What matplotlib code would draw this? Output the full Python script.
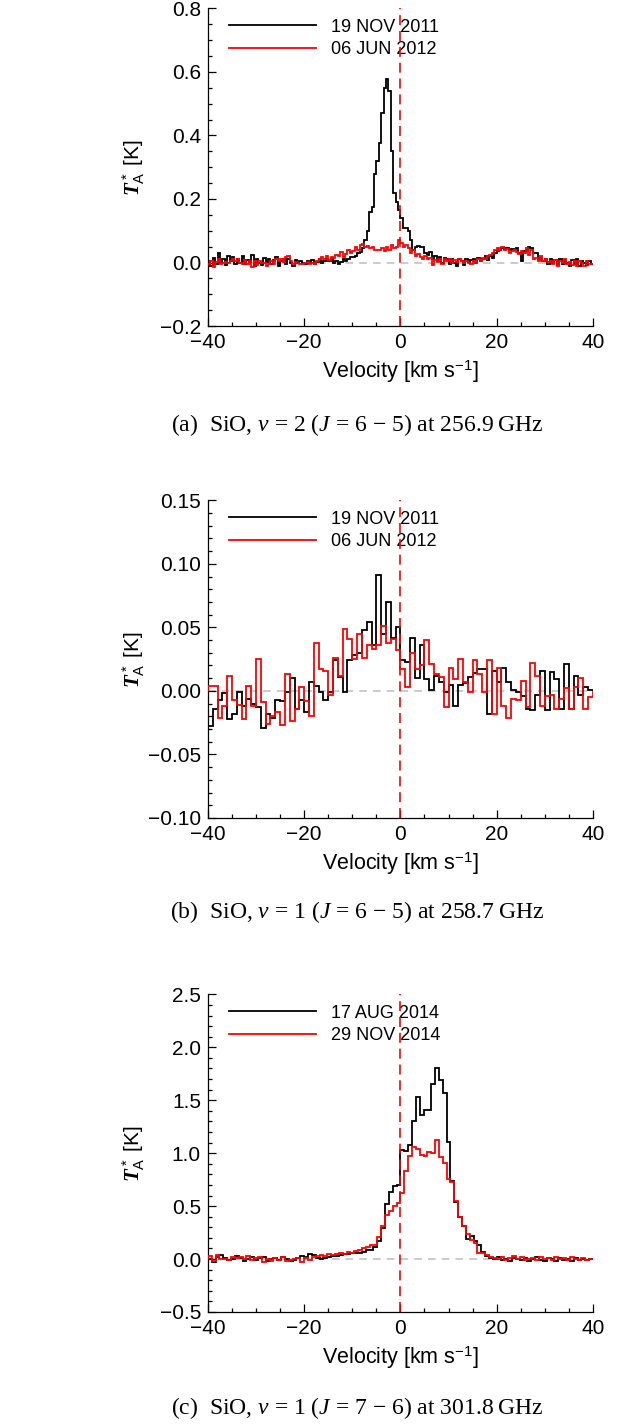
import numpy as np
import matplotlib
matplotlib.use("Agg")
import matplotlib.pyplot as plt

plt.rcParams["font.family"] = ["Liberation Sans", "DejaVu Sans"]
plt.rcParams["mathtext.fontset"] = "custom"
plt.rcParams["mathtext.rm"] = "Liberation Sans"
plt.rcParams["mathtext.it"] = "Liberation Serif:italic"
plt.rcParams["mathtext.bfit"] = "Liberation Serif:italic:bold"

# panel (a): SiO v=2 J=6-5, 0.5 km/s channels
a_black = [
    0.005, -0.010, 0.015, -0.005, 0.030, 0.000, 0.010, -0.008, 0.020, 0.005,
    0.018, -0.004, 0.012, 0.000, 0.022, -0.006, 0.008, 0.003, 0.025, -0.010,
    0.010, 0.000, -0.008, 0.015, 0.002, 0.012, -0.004, 0.008, 0.016, -0.012,
    0.006, 0.012, -0.006, 0.010, 0.000, -0.010, 0.008, -0.002, 0.004, 0.000,
    -0.004, 0.006, 0.000, 0.008, -0.006, 0.002, 0.010, 0.000, 0.004, 0.012,
    0.006, 0.012, 0.000, 0.004, -0.004, 0.002, 0.010, 0.006, 0.012, 0.018,
    0.018, 0.022, 0.030, 0.032, 0.045, 0.070, 0.100, 0.160, 0.175, 0.280,
    0.320, 0.375, 0.470, 0.550, 0.577, 0.540, 0.350, 0.220, 0.190, 0.165,
    0.140, 0.110, 0.108, 0.100, 0.070, 0.040, 0.050, 0.052, 0.048, 0.050,
    0.030, 0.025, 0.032, 0.012, 0.020, 0.005, 0.018, 0.000, 0.015, 0.010,
    -0.005, 0.012, 0.000, -0.012, 0.010, 0.005, -0.008, 0.012, 0.002, 0.008,
    0.010, 0.000, 0.015, 0.005, 0.012, 0.020, 0.008, 0.022, 0.015, 0.030,
    0.035, 0.040, 0.045, 0.042, 0.045, 0.040, 0.044, 0.038, 0.045, 0.030,
    0.005, 0.035, 0.040, 0.050, 0.045, 0.030, 0.030, 0.010, 0.015, 0.005,
    0.010, -0.005, 0.012, 0.000, 0.008, -0.008, 0.010, -0.006, 0.005, 0.000,
    -0.010, 0.008, -0.004, 0.012, -0.012, 0.006, 0.000, -0.008, 0.004, -0.004,
]
a_red = [
    -0.004, 0.006, -0.015, 0.002, 0.010, -0.005, 0.000, 0.003, -0.002, 0.004,
    0.012, 0.005, 0.010, 0.000, -0.004, 0.008, -0.006, 0.006, -0.015, 0.004,
    -0.008, 0.005, -0.002, 0.000, -0.010, -0.004, 0.006, -0.006, 0.012, 0.004,
    0.010, 0.002, 0.016, 0.020, 0.004, -0.004, 0.002, 0.000, -0.006, -0.004,
    -0.002, 0.002, -0.004, 0.000, -0.006, 0.006, 0.010, 0.016, 0.012, 0.020,
    0.008, 0.018, 0.014, 0.024, 0.020, 0.032, 0.016, 0.028, 0.040, 0.030,
    0.035, 0.048, 0.040, 0.055, 0.058, 0.050, 0.052, 0.045, 0.050, 0.038,
    0.040, 0.038, 0.045, 0.035, 0.048, 0.040, 0.055, 0.045, 0.050, 0.070,
    0.060, 0.048, 0.055, 0.045, 0.030, 0.040, 0.020, 0.028, 0.018, 0.010,
    0.020, 0.012, 0.015, -0.008, 0.008, 0.002, 0.012, -0.004, 0.010, 0.005,
    0.012, 0.000, 0.008, 0.002, 0.012, 0.004, -0.002, 0.006, 0.000, -0.004,
    0.006, 0.000, 0.010, 0.004, 0.015, 0.012, 0.020, 0.025, 0.030, 0.038,
    0.045, 0.040, 0.048, 0.038, 0.042, 0.030, 0.036, 0.040, 0.032, 0.028,
    0.035, 0.030, 0.045, 0.025, 0.040, 0.010, 0.015, 0.006, 0.020, 0.004,
    0.012, 0.002, 0.006, -0.004, 0.008, -0.010, 0.004, 0.000, 0.010, -0.006,
    0.002, -0.008, 0.006, -0.012, 0.004, 0.000, -0.010, 0.006, -0.004, -0.006,
]

# panel (b): SiO v=1 J=6-5, 1 km/s channels
b_black = [
    -0.028, -0.014, -0.007, -0.002, -0.022, -0.018, -0.001, -0.012, -0.006, -0.010,
    -0.013, -0.029, -0.018, -0.021, -0.007, -0.008, -0.001, 0.010, -0.014, -0.007,
    -0.017, 0.007, 0.004, -0.001, -0.007, -0.001, 0.024, 0.011, -0.001, 0.024,
    0.028, 0.030, 0.048, 0.054, 0.036, 0.091, 0.045, 0.070, 0.042, 0.050,
    0.024, 0.023, 0.042, 0.010, 0.036, 0.009, 0.001, 0.012, 0.007, -0.001,
    0.005, -0.012, 0.005, 0.006, 0.011, 0.014, 0.017, 0.017, -0.018, 0.016,
    0.007, 0.018, 0.007, 0.001, -0.001, -0.004, -0.014, -0.015, -0.003, 0.016,
    -0.015, 0.015, 0.009, -0.014, 0.021, -0.014, 0.012, -0.003, 0.003, 0.001,
]
b_red = [
    0.004, 0.004, -0.021, -0.012, 0.012, -0.007, -0.011, -0.022, 0.004, -0.012,
    0.025, -0.009, -0.026, -0.020, -0.017, -0.027, 0.013, -0.024, -0.014, 0.003,
    -0.008, -0.020, 0.038, 0.017, 0.016, -0.003, 0.026, 0.012, 0.049, 0.041,
    0.025, 0.045, 0.026, 0.036, 0.033, 0.036, 0.051, 0.038, 0.041, 0.032,
    0.017, 0.003, 0.030, 0.017, 0.020, 0.040, 0.021, 0.013, 0.011, -0.013,
    0.018, 0.009, 0.025, 0.007, -0.001, 0.024, 0.013, -0.001, 0.024, -0.018,
    0.018, -0.012, -0.021, -0.006, -0.007, 0.008, -0.013, 0.022, 0.012, -0.012,
    -0.004, -0.003, -0.014, -0.006, 0.002, -0.014, 0.003, 0.010, -0.014, -0.005,
]

# panel (c): SiO v=1 J=7-6, 0.8 km/s channels
c_black = [
    0.00, -0.03, 0.02, 0.04, 0.01, -0.01, 0.00, 0.03, 0.01, -0.02,
    0.00, 0.02, -0.01, 0.01, 0.02, -0.02, 0.00, 0.01, -0.01, 0.02,
    0.00, -0.02, -0.01, 0.01, 0.03, 0.02, 0.05, 0.04, 0.01, 0.00,
    0.01, 0.02, 0.03, 0.03, 0.04, 0.05, 0.045, 0.055, 0.06, 0.055,
    0.07, 0.085, 0.09, 0.11, 0.17, 0.29, 0.52, 0.63, 0.69, 0.70,
    1.03, 1.02, 1.08, 1.30, 1.53, 1.36, 1.41, 1.41, 1.65, 1.80,
    1.69, 1.57, 1.11, 0.74, 0.54, 0.40, 0.31, 0.19, 0.22, 0.17,
    0.13, 0.07, 0.025, 0.01, 0.00, 0.02, -0.01, 0.00, -0.02, 0.01,
    0.00, -0.01, 0.01, -0.02, 0.00, 0.02, -0.01, -0.02, 0.01, 0.00,
    -0.02, 0.01, -0.01, 0.00, -0.02, 0.01, -0.01, 0.00, -0.01, 0.00,
]
c_red = [
    0.03, -0.02, 0.04, 0.00, 0.00, -0.01, 0.02, 0.01, 0.02, 0.00,
    0.03, -0.01, 0.01, 0.02, -0.03, 0.00, -0.02, 0.01, -0.01, 0.02,
    -0.02, -0.01, 0.00, 0.01, -0.03, 0.01, -0.01, 0.02, 0.03, 0.04,
    0.03, 0.05, 0.04, 0.05, 0.06, 0.05, 0.07, 0.06, 0.08, 0.09,
    0.10, 0.11, 0.13, 0.13, 0.21, 0.31, 0.42, 0.45, 0.50, 0.53,
    0.62, 0.83, 0.97, 1.06, 1.04, 0.98, 0.97, 1.01, 1.00, 1.12,
    0.96, 0.91, 0.76, 0.73, 0.55, 0.40, 0.31, 0.24, 0.18, 0.15,
    0.06, 0.06, 0.04, 0.02, 0.01, 0.00, 0.02, -0.01, 0.01, 0.03,
    0.00, 0.02, -0.01, 0.00, 0.01, -0.01, 0.02, 0.00, 0.01, -0.01,
    0.02, 0.00, 0.01, -0.01, 0.02, 0.00, -0.01, 0.01, -0.01, 0.00,
]

panels = [
    (a_black, a_red, ["19 NOV 2011", "06 JUN 2012"], (-0.2, 0.8), 0.2, 0.05,
     "(a)  SiO, $v$ = 2 ($J$ = 6 \u2212 5) at 256.9\u2009GHz"),
    (b_black, b_red, ["19 NOV 2011", "06 JUN 2012"], (-0.10, 0.15), 0.05, 0.01,
     "(b)  SiO, $v$ = 1 ($J$ = 6 \u2212 5) at 258.7\u2009GHz"),
    (c_black, c_red, ["17 AUG 2014", "29 NOV 2014"], (-0.5, 2.5), 0.5, 0.1,
     "(c)  SiO, $v$ = 1 ($J$ = 7 \u2212 6) at 301.8\u2009GHz"),
]
decimals = [1, 2, 1]

fig = plt.figure(figsize=(6.17, 14.25), dpi=100)
bottoms = [0.7712, 0.4260, 0.0793]
caption_y = [0.7018, 0.3600, 0.0119]

for i, (black, red, labels, ylim, major, minor, caption) in enumerate(panels):
    ax = fig.add_axes([0.337, bottoms[i], 0.624, 0.2229])
    edges = np.linspace(-40, 40, len(black) + 1)
    ax.axhline(0, color="#bdbdbd", lw=1.1, dashes=(5, 4), zorder=1)
    ax.stairs(black, edges, color="black", lw=1.3, zorder=2)
    ax.stairs(red, edges, color="red", lw=1.3, zorder=3)
    ax.axvline(0, color="red", lw=1.2, dashes=(6, 3.5), zorder=4)

    ax.set_xlim(-40, 40)
    ax.set_ylim(*ylim)
    ax.set_xticks(np.arange(-40, 41, 20))
    ax.set_xticks(np.arange(-40, 41, 5), minor=True)
    ax.set_yticks(np.arange(ylim[0], ylim[1] + major / 2, major))
    ax.set_yticks(np.arange(ylim[0], ylim[1] + minor / 2, minor), minor=True)
    nd = decimals[i]
    ax.yaxis.set_major_formatter(matplotlib.ticker.FuncFormatter(
        lambda y, pos, nd=nd: f"{y + 0.0:.{nd}f}".replace("-", "\u2212")))
    for s in ["top", "right"]:
        ax.spines[s].set_visible(False)
    for s in ["left", "bottom"]:
        ax.spines[s].set_linewidth(0.9)
    ax.tick_params(which="both", direction="in", width=0.9, labelsize=15, pad=5)
    ax.tick_params(which="major", length=5.5)
    ax.tick_params(which="minor", length=3)

    ax.set_xlabel(r"Velocity [km s$^{-1}$]", fontsize=15.5)
    ax.xaxis.label.set_va("center")
    ax.xaxis.set_label_coords(0.5, -0.145)
    ax.set_ylabel(r"$\mathbfit{T}_{\mathrm{A}}^{\,*}$ [K]", fontsize=15)
    ax.yaxis.label.set_va("center")
    ax.yaxis.set_label_coords(-0.192, 0.5)

    for j, (col, lab) in enumerate(zip(["black", "red"], labels)):
        yy = 0.947 - 0.071 * j
        ax.plot([0.055, 0.28], [yy, yy], color=col, lw=1.3, transform=ax.transAxes)
        ax.text(0.32, yy, lab, fontsize=13, va="center_baseline", transform=ax.transAxes)

    fig.text(0.579, caption_y[i], caption, fontsize=17, ha="center", va="center",
             family=["Liberation Serif", "DejaVu Serif"])

fig.savefig("out.png", dpi=100)
